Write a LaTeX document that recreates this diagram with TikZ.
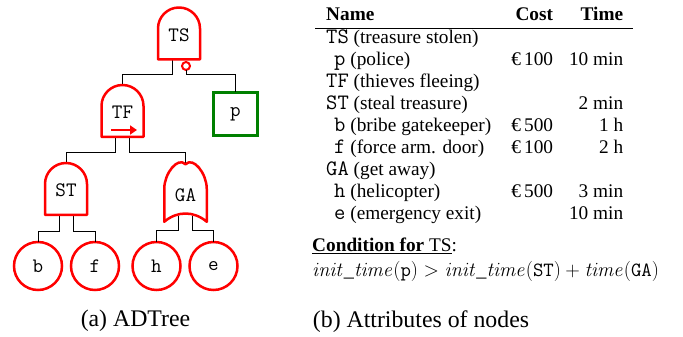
\RequirePackage{fix-cm}
\documentclass[tikz,border=0pt]{standalone}
\usepackage[no-math]{fontspec}
\setmainfont{Liberation Serif}
\setmonofont{Latin Modern Mono}[Scale=1.14]
\usetikzlibrary{arrows.meta}

\definecolor{attackred}{RGB}{255,0,0}
\definecolor{defensegreen}{RGB}{0,128,0}

\newcommand\andoutline[1]{%
  \draw[gateline] (#1.south west) -- ([yshift=-21pt]#1.north west)
    arc[start angle=180,end angle=0,radius=21pt] -- (#1.south east) -- cycle;}

\begin{document}
\begin{tikzpicture}[x=1pt,y=1pt,
    gateline/.style={draw=attackred,line width=2.5pt,line join=round},
    gate/.style={minimum width=42pt,minimum height=52pt,inner sep=0pt,outer sep=0pt,
      font=\fontsize{18}{18}\ttfamily,text height=15.5pt,text depth=0pt},
    orgate/.style={gate,minimum width=42.5pt,minimum height=57.5pt,text height=18pt},
    leaf/.style={circle,draw=attackred,line width=2.5pt,minimum size=48pt,inner sep=0pt,
      outer sep=0pt,font=\fontsize{18}{18}\ttfamily},
    defense/.style={draw=defensegreen,line width=3pt,minimum width=44pt,minimum height=43pt,
      inner sep=0pt,outer sep=0pt,font=\fontsize{18}{18}\ttfamily},
    counter/.style={circle,draw=attackred,fill=white,line width=2pt,minimum size=8pt,
      inner sep=0pt,outer sep=0pt},
    link/.style={draw=black,line width=0.8pt},
    caption/.style={anchor=base,inner sep=0pt,font=\fontsize{23.8}{28}\selectfont}]
  \useasboundingbox (0,0) rectangle (683,337);

  % (a) the tree
  \node[gate] (TS) at (179,303.5) {TS};
  \node[gate] (TF) at (122.5,226) {TF};
  \node[gate] (ST) at (66,148) {ST};
  \node[orgate] (GA) at (185.5,144) {GA};
  \node[defense] (p) at (235.5,223) {p};
  \node[leaf] (b) at (38,71) {b};
  \node[leaf] (f) at (95,71) {f};
  \node[leaf] (h) at (156.5,71) {h};
  \node[leaf] (e) at (213.5,71) {e};

  \draw[link] ([xshift=-7pt]TS.south) -- ++(0,-14.5) -| (TF.north);
  \draw[link] ([xshift=-7pt]TF.south) -- ++(0,-15) -| (ST.north);
  \draw[link] ([xshift=7pt]TF.south) -- ++(0,-15) -| (GA.north);
  \draw[link] ([xshift=-7pt]ST.south) -- ++(0,-16) -| (b.north);
  \draw[link] ([xshift=7pt]ST.south) -- ++(0,-16) -| (f.north);
  \draw[link] ([xshift=-7pt,yshift=6pt]GA.south) -- ++(0,-15) -| (h.north);
  \draw[link] ([xshift=7pt,yshift=6pt]GA.south) -- ++(0,-15) -| (e.north);

  \andoutline{TS}
  \andoutline{TF}
  \andoutline{ST}
  \draw[gateline] (GA.south west) -- ++(0,33)
    .. controls +(0,15) and +(-8,8) .. (GA.north)
    .. controls +(8,8) and +(0,15) .. ([yshift=33pt]GA.south east)
    -- (GA.south east) .. controls +(-13,11) and +(13,11) .. (GA.south west) -- cycle;
  \coordinate (seqstart) at (111,207);
  \coordinate (seqend) at (137,207);
  \draw[attackred,line width=2.5pt,-{Triangle[length=7pt,width=9pt]}] (seqstart) -- (seqend);

  \node[counter] (cm) at (186,271) {};
  \draw[link] (cm.south) -- ++(0,-4) -| (p.north);

  \node[caption] (capa) at (135.5,10) {(a) ADTree};

  % (b) the attributes
  \node[anchor=base west,inner sep=0pt] (attrs) at (315,316) {%
    \fontsize{19.3}{21.9}\selectfont\setlength{\arrayrulewidth}{1pt}%
    \begin{tabular}[t]{@{\hspace{11pt}}l@{\hspace{20pt}}r@{\hspace{16pt}}r@{\hspace{10pt}}}
      \textbf{Name} & \textbf{Cost} & \textbf{Time}\\ \hline
      \texttt{TS} (treasure stolen) & & \\
      \hspace{8pt}\texttt{p} (police) & €\,100 & 10 min\\
      \texttt{TF} (thieves fleeing) & & \\
      \texttt{ST} (steal treasure) & & 2 min\\
      \hspace{8pt}\texttt{b} (bribe gatekeeper) & €\,500 & 1 h\\
      \hspace{8pt}\texttt{f} (force arm. door) & €\,100 & 2 h\\
      \texttt{GA} (get away) & & \\
      \hspace{8pt}\texttt{h} (helicopter) & €\,500 & 3 min\\
      \hspace{8pt}\texttt{e} (emergency exit) & & 10 min
    \end{tabular}};
  \node[anchor=base west,inner sep=0pt,font=\fontsize{19.3}{21.9}\selectfont] (cond) at (312,85)
    {\underline{\textbf{Condition for} TS}:};
  \node[anchor=base west,inner sep=0pt,font=\fontsize{20.2}{22}\selectfont] (formula) at (312,60)
    {$\mathit{init\_time}(\mathtt{p}) > \mathit{init\_time}(\mathtt{ST}) + \mathit{time}(\mathtt{GA})$};

  \node[caption] (capb) at (421,9) {(b) Attributes of nodes};
\end{tikzpicture}
\end{document}
